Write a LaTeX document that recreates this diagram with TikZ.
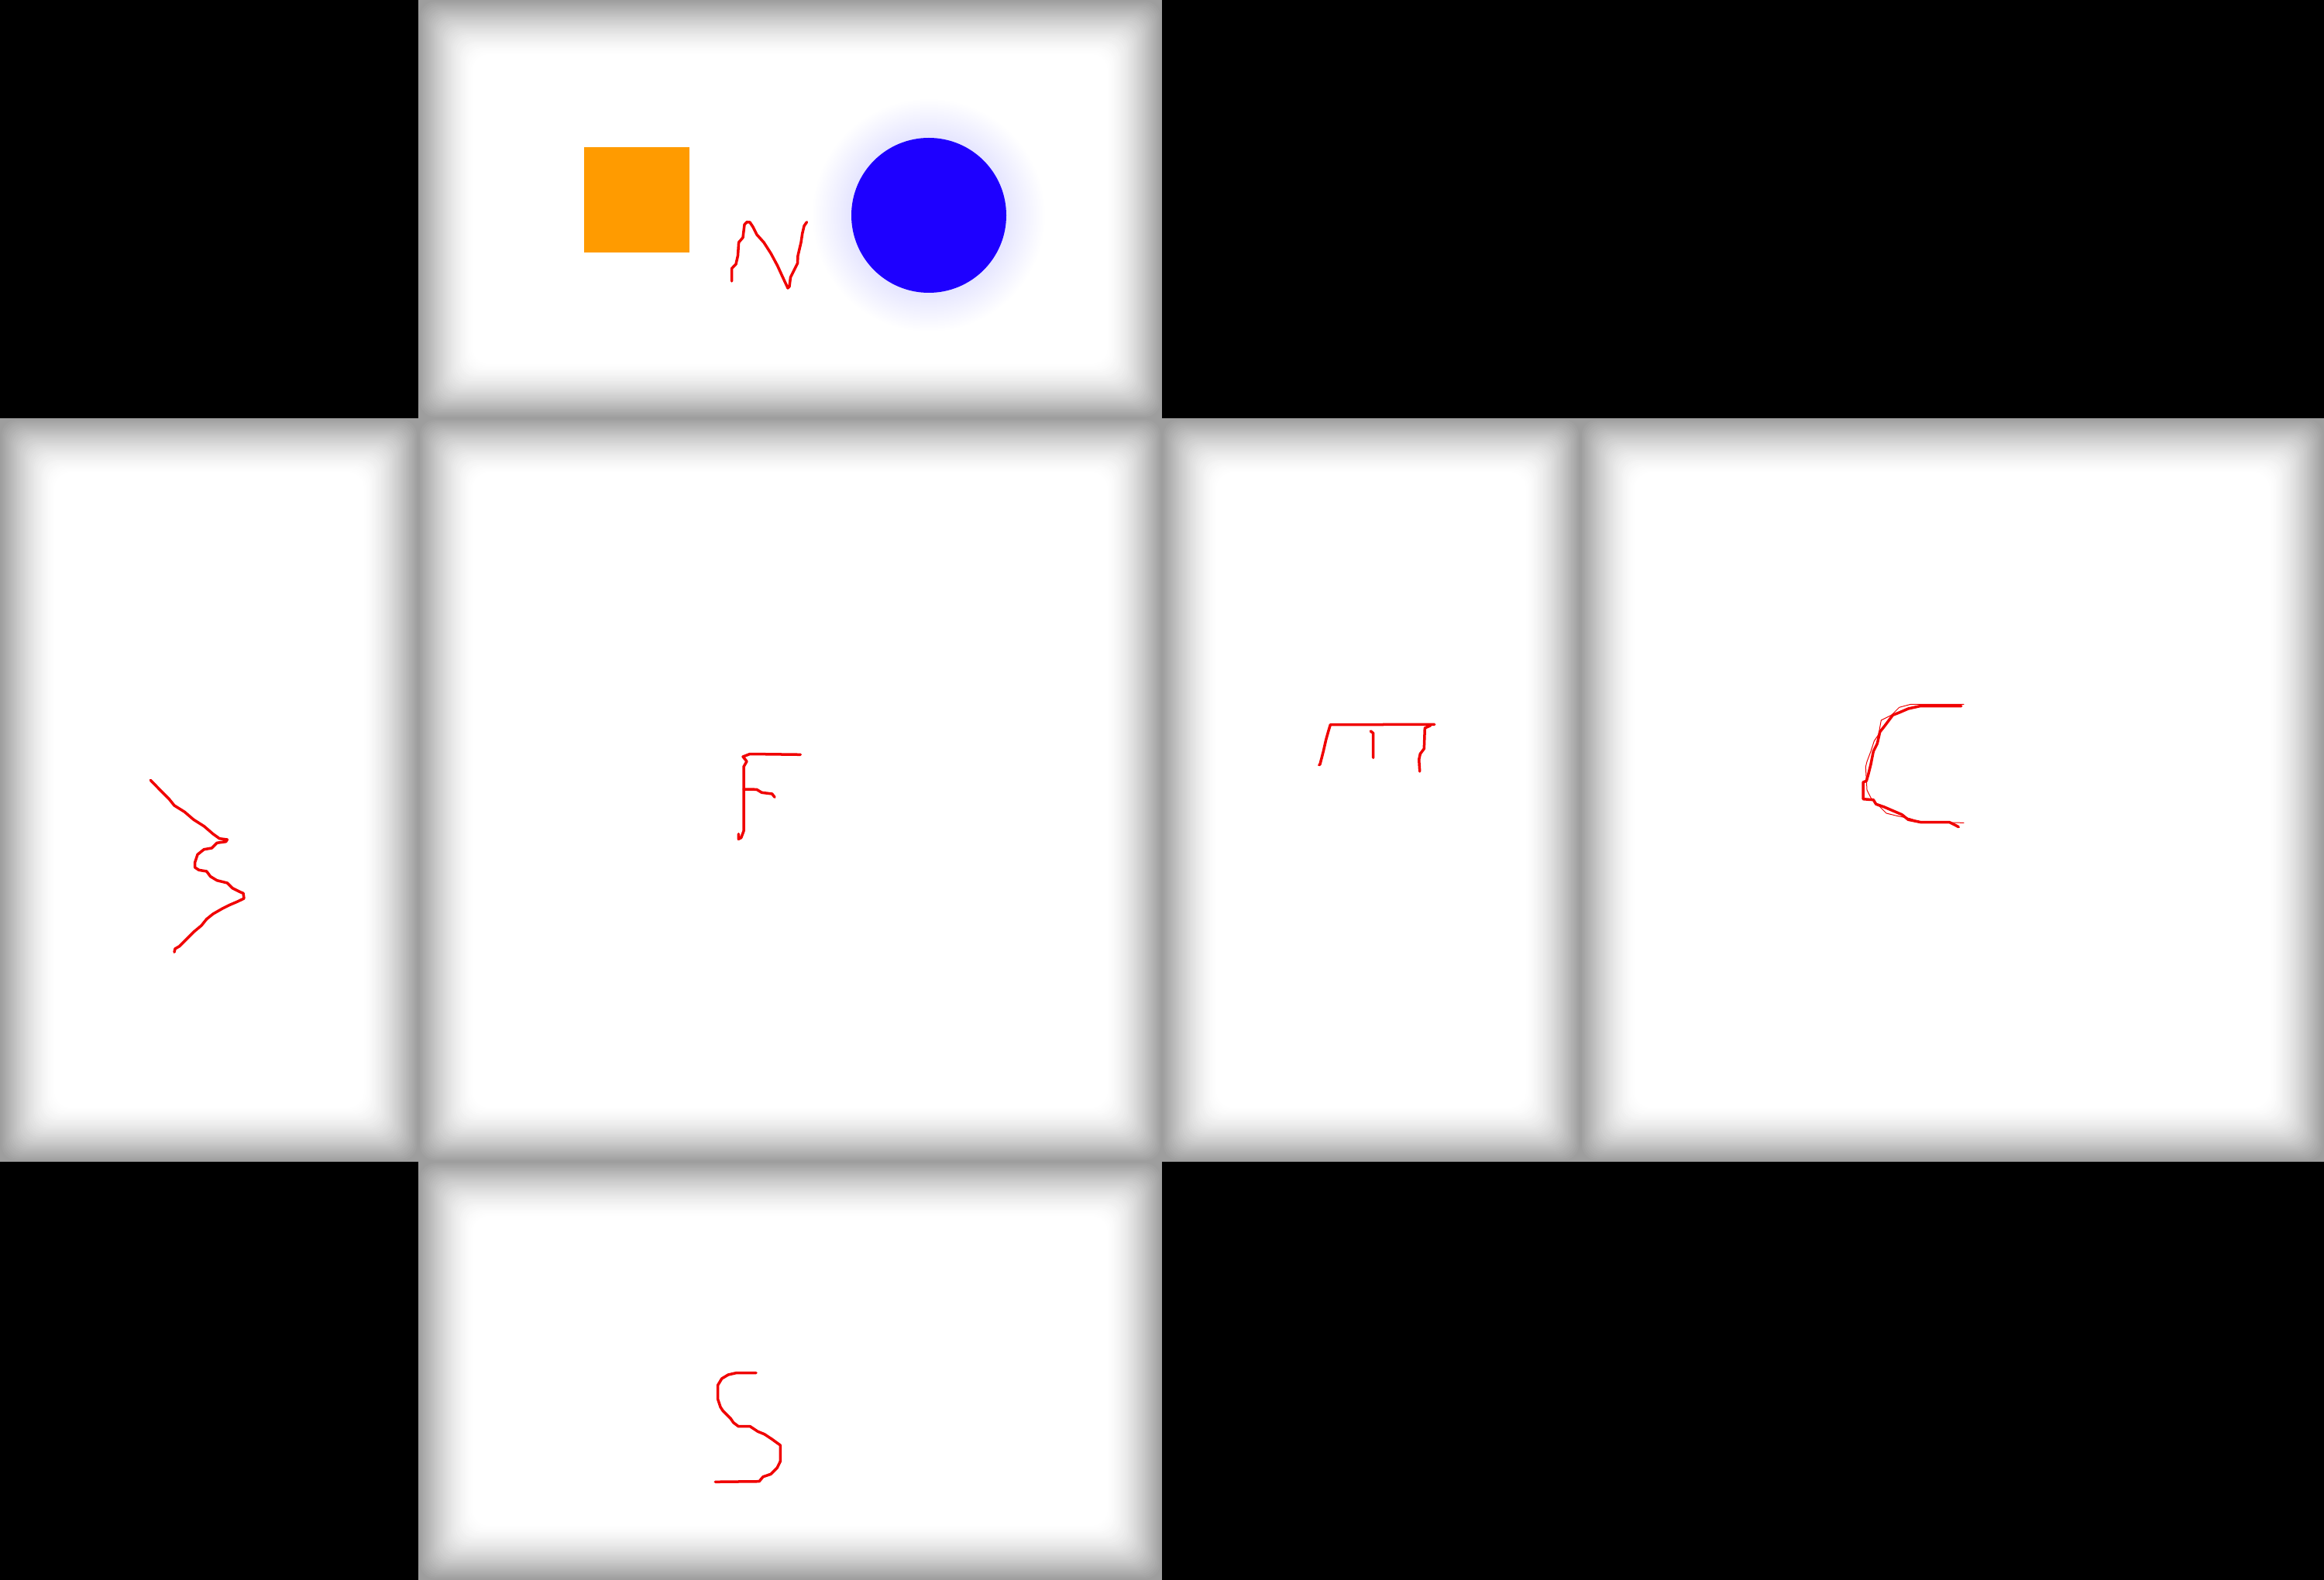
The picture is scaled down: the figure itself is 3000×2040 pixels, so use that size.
\documentclass[tikz,border=0pt]{standalone}
\definecolor{edgegray}{gray}{0.62}
\definecolor{orng}{RGB}{255,155,0}
\definecolor{bluec}{RGB}{30,0,255}
\definecolor{redink}{RGB}{240,0,0}
\tikzset{
  ink/.style={draw=redink, line width=0.035cm, line join=round, line cap=round},
  thinink/.style={draw=redink, line width=0.01cm, line join=round, line cap=round},
}
\newcommand\vcell[4]{%
  \fill[edgegray] (#1,#2) rectangle (#3,#4);
  \foreach \k in {1,...,35} {
    \pgfmathsetmacro\s{\k*2}
    \pgfmathtruncatemacro\p{100*(1-(1-\k/35)^1.5)}
    \fill[white!\p!edgegray, rounded corners=0.2cm] (#1+\s,#2+\s) rectangle (#3-\s,#4-\s);
  }%
}
\begin{document}
\begin{tikzpicture}[x=0.01cm,y=-0.01cm]
\useasboundingbox (0,0) rectangle (3000,2040);
\fill[black] (0,0) rectangle (3000,2040);
% faces
\vcell{540}{0}{1500}{540}
\vcell{0}{540}{540}{1500}
\vcell{540}{540}{1500}{1500}
\vcell{1500}{540}{2040}{1500}
\vcell{2040}{540}{3000}{1500}
\vcell{540}{1500}{1500}{2040}
% top face content
\fill[orng] (754,190) rectangle (890,326);
\foreach \k in {1,...,25} {
  \fill[bluec, opacity=0.0025] (1199,278) circle ({100+2*\k});
}
\fill[bluec] (1199,278) circle (100);
% N
\draw[ink] (944.6,363) -- (944.6,346.7) -- (950,341) -- (952.5,330) -- (953.6,313) -- (959,306.7) -- (961,290) -- (964,286.7) -- (968,287) -- (972,293) -- (977,303) -- (986,313) -- (995,327) -- (1003.6,343) -- (1010,357) -- (1017,372) -- (1019,370) -- (1020.5,358) -- (1026,347) -- (1029.5,340) -- (1030,330) -- (1034,313) -- (1035.7,301.7) -- (1038,291.7) -- (1041.5,286.7);
% left glyph
\draw[ink] (194.3,1007.3) -- (208.3,1021.7) -- (218.3,1031.7) -- (225,1040) -- (238.3,1048.3) -- (250,1058.3) -- (263.3,1066.7) -- (275,1076.7) -- (283.3,1082.7) -- (293.3,1084) -- (291.7,1086.7) -- (280,1088.3) -- (273.3,1095) -- (263.3,1096.7) -- (255,1103.3) -- (251.7,1113.3) -- (251.7,1120) -- (256.7,1123.3) -- (266.7,1125) -- (271.7,1131.7) -- (280,1136.7) -- (293.3,1140) -- (300,1146.7) -- (310,1151.7) -- (314,1153.3) -- (315,1160) -- (306.7,1164) -- (296.7,1168.3) -- (286.7,1173.3) -- (275,1180) -- (266.7,1186.7) -- (260,1195) -- (250,1203.3) -- (240,1213.3) -- (231.7,1221.7) -- (226,1225) -- (225,1229.3);
% F
\draw[ink] (1033.3,974.3) -- (968,973.5) -- (959,977) -- (964,983) -- (960,990) -- (960,1073) -- (956.7,1081.7) -- (953.3,1083.3) -- (953.3,1076.7);
\draw[ink] (960,1019) -- (976.7,1019.3) -- (983.3,1023.3) -- (996.7,1025) -- (1000,1029.3);
% E-like glyph
\draw[ink] (1702.7,987.7) -- (1704,986.7) -- (1708.3,970) -- (1711.7,955) -- (1715,943.3) -- (1717.3,935.7) -- (1851.7,935.3);
\draw[ink] (1769.3,944) -- (1772.7,946.7) -- (1772.7,978.3);
\draw[ink] (1846.7,936.7) -- (1839.3,940) -- (1838.3,966.7) -- (1833.3,973.3) -- (1831.7,980.7) -- (1832.7,996);
% C
\draw[ink] (2531.7,911.7) -- (2478.3,911.7) -- (2463.3,915) -- (2451.7,920) -- (2443.3,923.3) -- (2433.3,936.7) -- (2426.7,945) -- (2423.3,960) -- (2418.3,970) -- (2415,986.7) -- (2411.7,1000) -- (2409.3,1008.3) -- (2405,1010) -- (2405,1031.7) -- (2418.3,1032.7) -- (2421.7,1038.3) -- (2431.7,1041.7) -- (2443.3,1046.7) -- (2455,1051.7) -- (2463.3,1058.3) -- (2480,1061.7) -- (2516.7,1061.7) -- (2523.3,1065) -- (2528.3,1067.7);
\draw[thinink] (2535,909.3) -- (2466.7,909.3) -- (2451.7,913.3) -- (2441.7,923.3) -- (2428.3,930) -- (2425,948.3) -- (2419.3,956.7) -- (2415,970) -- (2410,983.3) -- (2408.3,990) -- (2410,1020) -- (2415,1030) -- (2425,1040) -- (2435,1050) -- (2448.3,1053.3) -- (2465,1056.7) -- (2480,1061.7) -- (2535,1062.3);
% S
\draw[ink] (976,1772.7) -- (950,1772.7) -- (940,1775) -- (931.7,1780) -- (926.7,1788.3) -- (926.7,1806.7) -- (930,1816.7) -- (933.3,1821.7) -- (943.3,1831.7) -- (946.7,1836.7) -- (953.3,1841.7) -- (968.3,1841.7) -- (978.3,1848.3) -- (986.7,1851.7) -- (996.7,1858.3) -- (1007.3,1866) -- (1007.3,1886.7) -- (1003.3,1895) -- (995,1903.3) -- (985,1906.7) -- (980,1912.7) -- (923.3,1913.3);
\end{tikzpicture}
\end{document}
